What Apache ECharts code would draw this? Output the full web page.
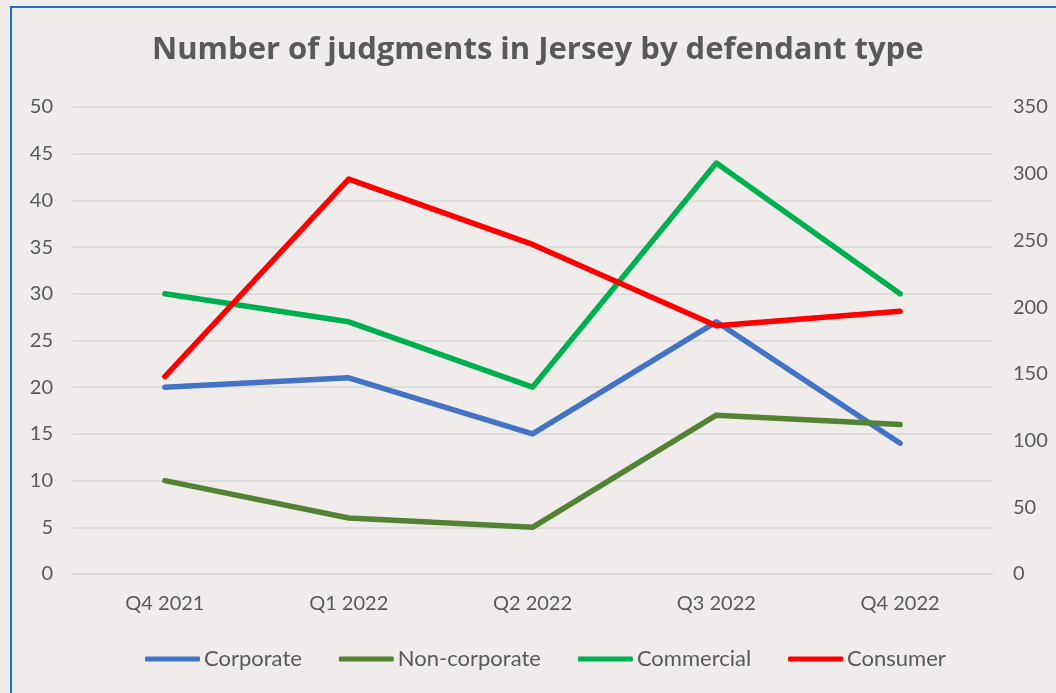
<!DOCTYPE html>
<html>
<head>
<meta charset="utf-8">
<script src="https://cdn.jsdelivr.net/npm/echarts@6/dist/echarts.min.js"></script>
<style>
  html, body { margin: 0; padding: 0; background: #EFECEB; overflow: hidden; }
  #container { width: 1056px; height: 693px; }
</style>
</head>
<body>
<div id="container"></div>
<script>
// quarters on the x axis
var quarters = ['Q4 2021', 'Q1 2022', 'Q2 2022', 'Q3 2022', 'Q4 2022'];
// left axis series
var corporate = [20, 21, 15, 27, 14];
var nonCorporate = [10, 6, 5, 17, 16];
var commercial = [30, 27, 20, 44, 30];
// right axis series
var consumer = [148, 296, 247, 186, 197];

var font = 'Lato, "Open Sans", sans-serif';
var textGrey = '#595959';

var myChart = echarts.init(document.getElementById('container'));

function lineSeries(name, data, color, axisIdx) {
    return {
        name: name,
        type: 'line',
        yAxisIndex: axisIdx,
        data: data,
        symbol: 'none',
        lineStyle: { width: 5.5, color: color, cap: 'round', join: 'round' },
        itemStyle: { color: color },
        animation: false
    };
}

var option = {
    backgroundColor: '#EFECEB',
    animation: false,
    title: {
        text: 'Number of judgments in Jersey by defendant type',
        left: 147,
        top: 30,
        textStyle: { fontFamily: '"Open Sans", Lato, sans-serif', fontSize: 31, fontWeight: 'bold', color: textGrey }
    },
    graphic: [{
        type: 'rect',
        shape: { x: 11, y: 7, width: 1200, height: 800 },
        style: { fill: 'none', stroke: '#1F6FC0', lineWidth: 2 },
        silent: true
    }],
    legend: {
        left: 140,
        top: 643,
        icon: 'roundRect',
        itemWidth: 55,
        itemHeight: 5,
        itemGap: 37,
        textStyle: { fontFamily: font, fontSize: 22, color: textGrey, padding: [0, 0, 0, -1] },
        data: ['Corporate', 'Non-corporate', 'Commercial', 'Consumer']
    },
    grid: { left: 73, right: 64, top: 107, bottom: 119 },
    xAxis: {
        type: 'category',
        data: quarters,
        boundaryGap: true,
        axisLine: { lineStyle: { color: '#D9D9D9', width: 1.5 } },
        axisTick: { show: false },
        axisLabel: { fontFamily: font, fontSize: 20, color: textGrey, margin: 20 }
    },
    yAxis: [{
        type: 'value',
        min: 0, max: 50, interval: 5,
        axisLine: { show: false },
        axisTick: { show: false },
        splitLine: { lineStyle: { color: '#D9D9D9', width: 1.5 } },
        axisLabel: { fontFamily: font, fontSize: 20, color: textGrey, margin: 20 }
    }, {
        type: 'value',
        min: 0, max: 350, interval: 50,
        position: 'right',
        axisLine: { show: false },
        axisTick: { show: false },
        splitLine: { show: false },
        axisLabel: { fontFamily: font, fontSize: 20, color: textGrey, margin: 21 }
    }],
    series: [
        lineSeries('Corporate', corporate, '#4472C4', 0),
        lineSeries('Non-corporate', nonCorporate, '#548235', 0),
        lineSeries('Commercial', commercial, '#00B050', 0),
        lineSeries('Consumer', consumer, '#FF0000', 1)
    ]
};

myChart.setOption(option);
</script>
</body>
</html>
